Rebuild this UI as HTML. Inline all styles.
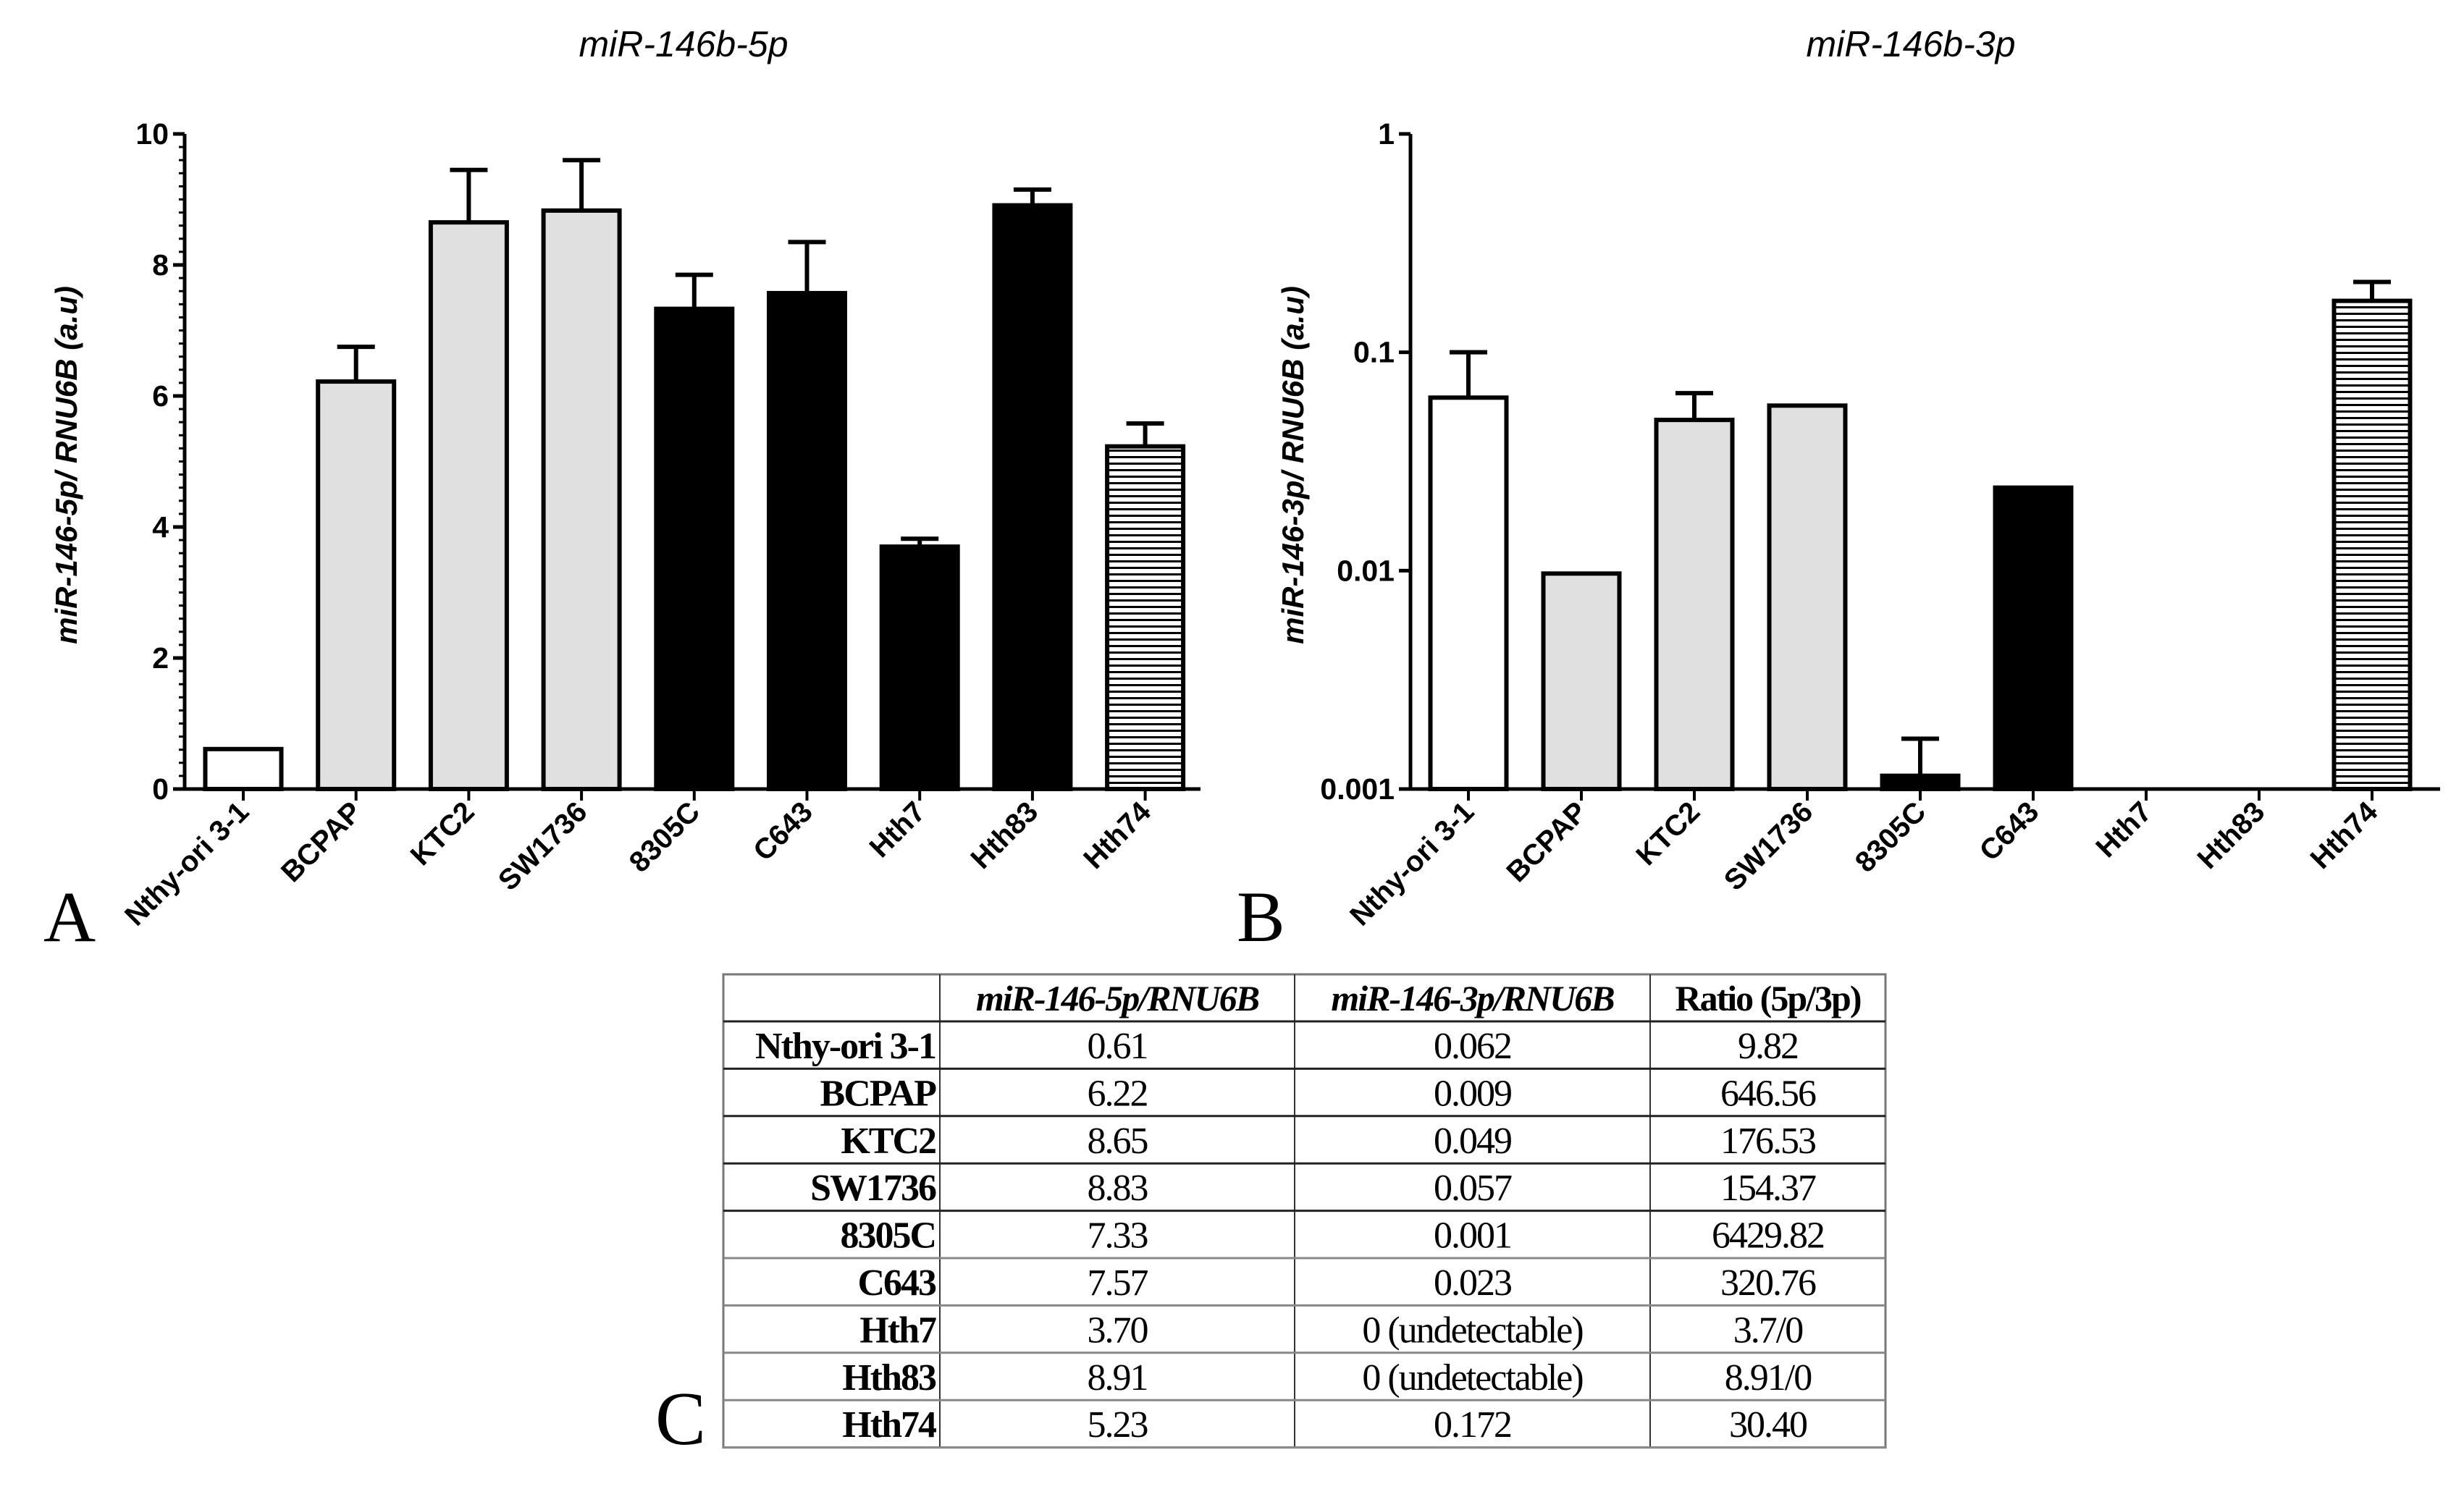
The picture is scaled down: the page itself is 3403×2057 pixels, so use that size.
<!DOCTYPE html>
<html><head><meta charset="utf-8"><style>
body{margin:0;background:#fff}
svg{display:block}
.ax{font-family:"Liberation Sans",sans-serif;font-weight:bold}
.ser{font-family:"Liberation Serif",serif}
</style></head><body>
<svg id="fig" width="3403" height="2057" viewBox="0 0 3403 2057" xmlns="http://www.w3.org/2000/svg">
<defs>
<pattern id="stripes" patternUnits="userSpaceOnUse" width="10" height="9"><rect width="10" height="9" fill="#fff"/><rect y="0" width="10" height="3" fill="#000"/></pattern>
</defs>
<g id="chartA"></g>
<g id="chartB"></g>
<g id="tableC"></g>
</svg>
<script>
const categories=["Nthy-ori 3-1","BCPAP","KTC2","SW1736","8305C","C643","Hth7","Hth83","Hth74"];
const fills=["#fff","#e0e0e0","#e0e0e0","#e0e0e0","#000","#000","#000","#000","url(#stripes)"];
const valuesA=[0.61,6.22,8.65,8.83,7.33,7.57,3.70,8.91,5.23];
const errTopA=[null,6.75,9.45,9.6,7.85,8.35,3.82,9.15,5.58];
const ticksA=[0,2,4,6,8,10];
const valuesB=[0.062,0.0097,0.049,0.057,0.00115,0.024,0,0,0.172];
const errTopB=[0.1,null,0.065,null,0.0017,null,null,null,0.21];
const ticksB=[0.001,0.01,0.1,1];
const tickLabelsB=["0.001","0.01","0.1","1"];
const tableHeader=["miR-146-5p/RNU6B","miR-146-3p/RNU6B","Ratio (5p/3p)"];
const tableRows=[
["Nthy-ori 3-1","0.61","0.062","9.82"],["BCPAP","6.22","0.009","646.56"],["KTC2","8.65","0.049","176.53"],
["SW1736","8.83","0.057","154.37"],["8305C","7.33","0.001","6429.82"],["C643","7.57","0.023","320.76"],
["Hth7","3.70","0 (undetectable)","3.7/0"],["Hth83","8.91","0 (undetectable)","8.91/0"],["Hth74","5.23","0.172","30.40"]];
const NS="http://www.w3.org/2000/svg";
function mk(parent,tag,attrs,text){const e=document.createElementNS(NS,tag);for(const k in attrs)e.setAttribute(k,attrs[k]);if(text!==undefined)e.textContent=text;parent.appendChild(e);return e;}

function drawChart(g,opt){
  const {x0,x1,yTop,yBot,c0,step,bw,yScale,values,errs,ticks,labels,title,titleX,ytitle,ytitleX,letter,letterX,minor}=opt;
  let t=mk(g,'text',{x:titleX,y:78,'font-size':50,'font-style':'italic','text-anchor':'middle',class:'ax'},title);
  
  
  t.style.fontWeight='normal';
  minor.forEach(v=>{const y=yScale(v);const l=mk(g,'line',{x1:x0-8,x2:x0,y1:y,y2:y,stroke:'#000','stroke-width':3});
    
    });
  ticks.forEach((v,i)=>{const y=yScale(v);
    const l=mk(g,'line',{x1:x0-16,x2:x0,y1:y,y2:y,stroke:'#000','stroke-width':5});
    
    
    const tx=mk(g,'text',{x:x0-22,y:y+14,'font-size':41,'text-anchor':'end',class:'ax'},labels[i]);
    
    });
  values.forEach((v,i)=>{const cx=c0+i*step;
    if(v>0){const yv=yScale(v);
      if(errs[i]!=null){const ye=yScale(errs[i]);
        const el=mk(g,'line',{x1:cx,x2:cx,y1:yv,y2:ye,stroke:'#000','stroke-width':6});
        
        
        const cap=mk(g,'line',{x1:cx-26,x2:cx+26,y1:ye,y2:ye,stroke:'#000','stroke-width':6});
        
        }
      const r=mk(g,'rect',{x:cx-bw/2,y:yv,width:bw,height:yBot-yv,fill:fills[i],stroke:'#000','stroke-width':6});
      
      }
    const tk=mk(g,'line',{x1:cx,x2:cx,y1:yBot,y2:yBot+16,stroke:'#000','stroke-width':4});
    
    
    const lb=mk(g,'text',{x:cx+10,y:yBot+34,'font-size':40,'text-anchor':'end',class:'ax',transform:`rotate(-45 ${cx+10} ${yBot+34})`},categories[i]);
    
    });
  const ax=mk(g,'line',{x1:x0,x2:x0,y1:yTop,y2:yBot,stroke:'#000','stroke-width':5});
  
  
  const xa=mk(g,'line',{x1:x0,x2:x1,y1:yBot,y2:yBot,stroke:'#000','stroke-width':5});
  
  
  const yc=(yTop+yBot)/2+5;
  const yt=mk(g,'text',{x:ytitleX,y:yc,'font-size':42,'font-style':'italic','text-anchor':'middle',class:'ax',transform:`rotate(-90 ${ytitleX} ${yc})`},ytitle);
  
  
  const le=mk(g,'text',{x:letterX,y:1300,'font-size':100,class:'ser'},letter);
  
  
}
const yBot=1090,yTop=185;
const scaleA=v=>yBot-(v/10)*(yBot-yTop);
const minorA=[];for(let k=0;k<=50;k++)minorA.push(k*0.2);
drawChart(document.getElementById('chartA'),{x0:255,x1:1658,yTop,yBot,c0:336,step:155.7,bw:105,yScale:scaleA,values:valuesA,errs:errTopA,ticks:ticksA,labels:ticksA.map(String),title:"miR-146b-5p",titleX:944,ytitle:"miR-146-5p/ RNU6B (a.u)",ytitleX:106,letter:"A",letterX:60,minor:minorA});
const scaleB=v=>yBot-((Math.log10(v)+3)/3)*(yBot-yTop);
drawChart(document.getElementById('chartB'),{x0:1948,x1:3370,yTop,yBot,c0:2028,step:156,bw:105,yScale:scaleB,values:valuesB,errs:errTopB,ticks:ticksB,labels:tickLabelsB,title:"miR-146b-3p",titleX:2639,ytitle:"miR-146-3p/ RNU6B (a.u)",ytitleX:1800,letter:"B",letterX:1708,minor:[]});

(function(){
  const g=document.getElementById('tableC');
  const L=999,R=2604,T=1346,H0=1411,rowH=65.4;
  const cols=[999,1298,1788,2279,2604];
  const bot=H0+rowH*tableRows.length;
  const bg=mk(g,'rect',{x:L,y:T,width:R-L,height:bot-T,fill:'#fff',stroke:'#777','stroke-width':3});
  
  
  cols.slice(1,4).forEach(x=>{const l=mk(g,'line',{x1:x,x2:x,y1:T,y2:bot,stroke:'#333','stroke-width':2});
    
    });
  for(let r=0;r<=tableRows.length;r++){const y=H0+r*rowH;
    const l=mk(g,'line',{x1:L,x2:R,y1:y,y2:y,stroke:r<5?'#222':'#888','stroke-width':3});
    
    }
  tableHeader.forEach((h,i)=>{const cx=(cols[i+1]+cols[i+2])/2;
    const t=mk(g,'text',{x:cx,y:T+50,'font-size':50,'font-weight':'bold','font-style':i<2?'italic':'normal','text-anchor':'middle',class:'ser','letter-spacing':'-2'},h);
    
    });
  tableRows.forEach((row,r)=>{const y=H0+r*rowH+51;
    const t=mk(g,'text',{x:cols[1]-6,y,'font-size':52,'font-weight':'bold','text-anchor':'end',class:'ser','letter-spacing':'-2'},row[0]);
    
    
    for(let c=1;c<4;c++){const cx=(cols[c]+cols[c+1])/2;
      const v=mk(g,'text',{x:cx,y,'font-size':52,'text-anchor':'middle',class:'ser','letter-spacing':'-2'},row[c]);
      
      }});
  const c=mk(g,'text',{x:905,y:1995,'font-size':105,class:'ser'},'C');
  
  
})();
</script>
</body></html>
